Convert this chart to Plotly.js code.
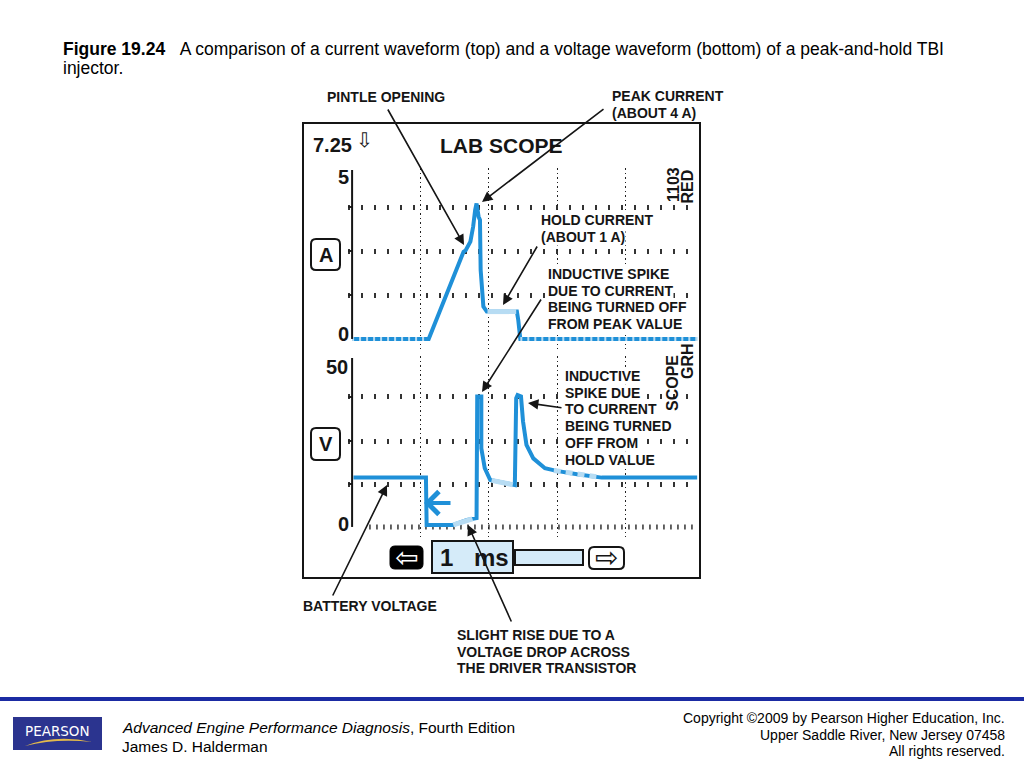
<!DOCTYPE html>
<html>
<head>
<meta charset="utf-8">
<script src="https://cdn.plot.ly/plotly-3.0.1.min.js"></script>
<style>html,body{margin:0;padding:0;background:#fff;}#chart{width:1024px;height:768px;}</style>
</head>
<body>
<div id="chart"></div>
<script>
// ---- data (time in ms) ----
const curT = [0, 1.12, 1.63, 1.66, 1.73, 1.77, 1.80, 1.82, 1.85, 1.87, 1.88, 1.90, 1.92, 1.97, 2.41, 2.43, 2.46, 5.05];
const curA = [0, 0, 2.58, 2.62, 2.88, 3.32, 3.82, 4.01, 3.62, 3.52, 2.04, 1.35, 0.96, 0.81, 0.81, 0.56, 0, 0];
const holdT = [1.98, 2.40];
const holdA = [0.81, 0.81];

const volT = [0.02, 1.08, 1.09, 1.48, 1.68, 1.82, 1.83, 1.89, 1.89, 1.94, 2.02, 2.38, 2.40, 2.42, 2.47, 2.50, 2.55, 2.65, 2.82, 2.99, 3.29, 3.65, 5.05];
const volV = [14.6, 14.6, 0.6, 0.6, 2.1, 2.6, 38.6, 38.6, 23.3, 17.4, 13.9, 12.4, 38.1, 39.0, 38.6, 31.2, 24.3, 20.3, 17.4, 16.6, 15.6, 14.6, 14.6];
const volHiT = [1.48, 1.68, 1.76, null, 2.04, 2.35];
const volHiV = [0.6, 2.1, 2.4, null, 13.8, 12.5];
const volDashT = [2.95, 3.29, 3.62];
const volDashV = [16.7, 15.6, 14.7];

const curRows = [1.3, 2.6, 3.9];
const volRows = [12.7, 25.4, 38.5];
const timeDivs = [1, 2, 3, 4];

// ---- helpers ----
const W = 1024, H = 768;
const px = x => x / W;
const py = y => 1 - y / H;
const P = (x, y) => px(x).toFixed(5) + ',' + py(y).toFixed(5);
function rrect(x0, y0, x1, y1, r) {
  return 'M' + P(x0 + r, y0) + ' L' + P(x1 - r, y0) + ' Q' + P(x1, y0) + ' ' + P(x1, y0 + r) +
    ' L' + P(x1, y1 - r) + ' Q' + P(x1, y1) + ' ' + P(x1 - r, y1) +
    ' L' + P(x0 + r, y1) + ' Q' + P(x0, y1) + ' ' + P(x0, y1 - r) +
    ' L' + P(x0, y0 + r) + ' Q' + P(x0, y0) + ' ' + P(x0 + r, y0) + ' Z';
}

const BLUE = '#1f90d8';
const LIGHT = '#b7dcf3';
const INK = '#151515';
const FONT = 'Liberation Sans, Arial, Helvetica, sans-serif';

// zero-level overlay derived from the current data
const zeroT = curT.map((t, i) => curA[i] === 0 ? t : null);
const zeroA = curA.map(a => a === 0 ? 0 : null);

const traces = [
  {x: curT, y: curA, xaxis: 'x', yaxis: 'y', mode: 'lines', line: {color: BLUE, width: 4}, hoverinfo: 'skip'},
  {x: zeroT, y: zeroA, xaxis: 'x', yaxis: 'y', mode: 'lines', connectgaps: false, line: {color: LIGHT, width: 4, dash: '2px,5px'}, hoverinfo: 'skip'},
  {x: holdT, y: holdA, xaxis: 'x', yaxis: 'y', mode: 'lines', line: {color: LIGHT, width: 5}, hoverinfo: 'skip'},
  {x: volT, y: volV, xaxis: 'x2', yaxis: 'y2', mode: 'lines', line: {color: BLUE, width: 4}, hoverinfo: 'skip'},
  {x: volHiT, y: volHiV, xaxis: 'x2', yaxis: 'y2', mode: 'lines', connectgaps: false, line: {color: LIGHT, width: 5}, hoverinfo: 'skip'},
  {x: volDashT, y: volDashV, xaxis: 'x2', yaxis: 'y2', mode: 'lines', line: {color: LIGHT, width: 5, dash: '7px,5px'}, hoverinfo: 'skip'}
];

const xDomain = [px(348), px(697.4)];
const xCommon = {
  domain: xDomain, range: [-0.06, 5.05], tickmode: 'array', tickvals: timeDivs,
  showgrid: true, gridcolor: '#222', gridwidth: 1, griddash: '1.5px,3px',
  showticklabels: false, ticks: '', zeroline: false, showline: false, fixedrange: true
};
const yMinor = vals => ({
  tickmode: 'array', tickvals: vals, showgrid: true, gridcolor: '#333', gridwidth: 5,
  griddash: '1.5px,11.5px', ticks: 'outside', ticklen: 4, tickwidth: 1.5, tickcolor: '#222'
});

const shapes = [
  // scope frame
  {type: 'rect', xref: 'paper', yref: 'paper', x0: px(303), x1: px(700), y0: py(578), y1: py(123), line: {color: INK, width: 2}},
  // y axis lines
  {type: 'line', xref: 'x', yref: 'y', x0: 0, x1: 0, y0: 0, y1: 5, line: {color: INK, width: 2}},
  {type: 'line', xref: 'x2', yref: 'y2', x0: 0, x1: 0, y0: 0, y1: 50, line: {color: INK, width: 2}},
  // zero tick row on voltage panel
  {type: 'line', xref: 'x2', yref: 'y2', x0: 0.25, x1: 5.0, y0: 0, y1: 0, layer: 'below', line: {color: '#333', width: 5, dash: '1.5px,5.5px'}},
  // A / V boxes
  {type: 'path', xref: 'paper', yref: 'paper', path: rrect(311, 239, 340, 270, 5), line: {color: INK, width: 2}},
  {type: 'path', xref: 'paper', yref: 'paper', path: rrect(311, 428, 340, 460, 5), line: {color: INK, width: 2}},
  // bottom control bar
  {type: 'path', xref: 'paper', yref: 'paper', path: rrect(390, 546, 423, 569, 5), fillcolor: '#000', line: {color: '#000', width: 1}},
  {type: 'rect', xref: 'paper', yref: 'paper', x0: px(432), x1: px(513), y0: py(573), y1: py(541), fillcolor: '#d5ebf9', line: {color: INK, width: 2}},
  {type: 'rect', xref: 'paper', yref: 'paper', x0: px(515), x1: px(583), y0: py(565), y1: py(550), fillcolor: '#d5ebf9', line: {color: INK, width: 2}},
  {type: 'path', xref: 'paper', yref: 'paper', path: rrect(589, 547, 624, 569, 5), fillcolor: '#fff', line: {color: INK, width: 2}},
  // footer rule
  {type: 'rect', xref: 'paper', yref: 'paper', x0: 0, x1: 1, y0: py(701), y1: py(697), fillcolor: '#1b2ba3', line: {width: 0}},
  // Pearson logo
  {type: 'rect', xref: 'paper', yref: 'paper', x0: px(13), x1: px(102), y0: py(750), y1: py(717), fillcolor: '#2b348f', line: {width: 0}},
  {type: 'path', xref: 'paper', yref: 'paper', path: 'M' + P(25, 746) + ' Q' + P(56, 734) + ' ' + P(92, 742) + ' Q' + P(56, 738) + ' ' + P(25, 746) + ' Z', fillcolor: '#e2b94c', line: {width: 0}}
];

const ann = [];
function txt(text, x, y, size, opts) {
  ann.push(Object.assign({text: text, x: px(x), y: py(y), xref: 'paper', yref: 'paper', showarrow: false,
    xanchor: 'center', yanchor: 'middle', font: {family: FONT, size: size, color: INK}}, opts || {}));
}
function arrow(tx, ty, hx, hy) {
  ann.push({text: '', x: px(hx), y: py(hy), xref: 'paper', yref: 'paper', ax: tx - hx, ay: ty - hy,
    axref: 'pixel', ayref: 'pixel', showarrow: true, arrowhead: 2, arrowsize: 1.3, arrowwidth: 1.6,
    arrowcolor: INK, standoff: 0});
}
function label(lines, x, y0) {
  lines.forEach((s, i) => txt('<b>' + s + '</b>', x, y0 + i * 16.7, 14,
    {xanchor: 'left', bgcolor: '#fff', borderpad: 0}));
}

// title lines
txt('<b>Figure 19.24</b>\u00a0\u00a0\u00a0A comparison of a current waveform (top) and a voltage waveform (bottom) of a peak-and-hold TBI', 61, 49, 17.5, {xanchor: 'left', font: {family: FONT, size: 17.5, color: '#000'}});
txt('injector.', 61, 68, 17.5, {xanchor: 'left', font: {family: FONT, size: 17.5, color: '#000'}});

// arrows first, so label backgrounds sit above the grid but arrows remain visible at tips
arrow(387, 108, 464, 245);
arrow(605, 108, 482, 202);
arrow(538, 245, 503, 305);
arrow(542, 298, 482, 392);
arrow(563, 408, 528, 403);
arrow(332, 597, 387, 485);
arrow(512, 623, 468, 525);

// scope texts
txt('<b>7.25</b>', 332, 145, 20);
txt('\u21E9', 364, 140, 20, {font: {family: 'DejaVu Sans, sans-serif', size: 20, color: INK}});
txt('<b>LAB SCOPE</b>', 501, 145, 21);
txt('<b>5</b>', 343, 177, 20);
txt('<b>0</b>', 343, 334, 20);
txt('<b>50</b>', 337, 367, 20);
txt('<b>0</b>', 343, 524, 20);
txt('<b>A</b>', 325.5, 255, 20);
txt('<b>V</b>', 325.5, 444, 20);
txt('<b>1103</b>', 674, 185, 16, {textangle: -90});
txt('<b>RED</b>', 686.5, 187, 16, {textangle: -90});
txt('<b>SCOPE</b>', 672, 383, 16, {textangle: -90});
txt('<b>GRH</b>', 688, 361, 16, {textangle: -90});
txt('\u21E6', 406.5, 557, 28, {font: {family: 'DejaVu Sans, sans-serif', size: 28, color: '#fff'}});
txt('\u21E8', 606.5, 557, 28, {font: {family: 'DejaVu Sans, sans-serif', size: 28, color: INK}});
txt('<b>1</b>', 446, 557, 24);
txt('<b>ms</b>', 491, 557, 24);

// callout labels
label(['PINTLE OPENING'], 326, 97);
label(['PEAK CURRENT', '(ABOUT 4 A)'], 611, 96);
label(['HOLD CURRENT', '(ABOUT 1 A)'], 540, 220);
label(['INDUCTIVE SPIKE', 'DUE TO CURRENT', 'BEING TURNED OFF', 'FROM PEAK VALUE'], 547, 274);
label(['INDUCTIVE', 'SPIKE DUE', 'TO CURRENT', 'BEING TURNED', 'OFF FROM', 'HOLD VALUE'], 564, 376);
label(['BATTERY VOLTAGE'], 302, 606);
label(['SLIGHT RISE DUE TO A', 'VOLTAGE DROP ACROSS', 'THE DRIVER TRANSISTOR'], 456, 635);

// blue marker arrow in voltage panel
ann.push({text: '', x: px(424), y: py(503), xref: 'paper', yref: 'paper', ax: 28, ay: 0, axref: 'pixel', ayref: 'pixel',
  showarrow: true, arrowhead: 4, arrowsize: 1.1, arrowwidth: 4, arrowcolor: BLUE, standoff: 0});

// footer
txt('PEARSON', 57.5, 731, 14, {font: {family: 'DejaVu Sans, sans-serif', size: 13.5, color: '#fff'}});
txt('<i>Advanced Engine Performance Diagnosis</i>, Fourth Edition', 120, 727, 15.5, {xanchor: 'left', font: {family: FONT, size: 15.5, color: '#000'}});
txt('James D. Halderman', 120, 746, 15.5, {xanchor: 'left', font: {family: FONT, size: 15.5, color: '#000'}});
txt('Copyright \u00a92009 by Pearson Higher Education, Inc.', 1007, 718, 14, {xanchor: 'right', font: {family: FONT, size: 14, color: '#000'}});
txt('Upper Saddle River, New Jersey 07458', 1007, 735, 14, {xanchor: 'right', font: {family: FONT, size: 14, color: '#000'}});
txt('All rights reserved.', 1007, 751, 14, {xanchor: 'right', font: {family: FONT, size: 14, color: '#000'}});

const layout = {
  width: W, height: H, margin: {l: 0, r: 0, t: 0, b: 0},
  paper_bgcolor: '#fff', plot_bgcolor: 'rgba(0,0,0,0)', showlegend: false,
  xaxis: Object.assign({}, xCommon, {anchor: 'y'}),
  xaxis2: Object.assign({}, xCommon, {anchor: 'y2'}),
  yaxis: {domain: [py(349.1), py(168.3)], range: [-0.3, 5.05], anchor: 'free', position: px(352),
    tickmode: 'array', tickvals: [], showticklabels: false, ticks: '', showgrid: false, zeroline: false, showline: false,
    minor: yMinor(curRows), fixedrange: true},
  yaxis2: {domain: [py(537.1), py(356.3)], range: [-3, 50.5], anchor: 'free', position: px(352),
    tickmode: 'array', tickvals: [], showticklabels: false, ticks: '', showgrid: false, zeroline: false, showline: false,
    minor: yMinor(volRows), fixedrange: true},
  shapes: shapes,
  annotations: ann
};

Plotly.newPlot('chart', traces, layout, {staticPlot: true, displayModeBar: false});
</script>
</body>
</html>
